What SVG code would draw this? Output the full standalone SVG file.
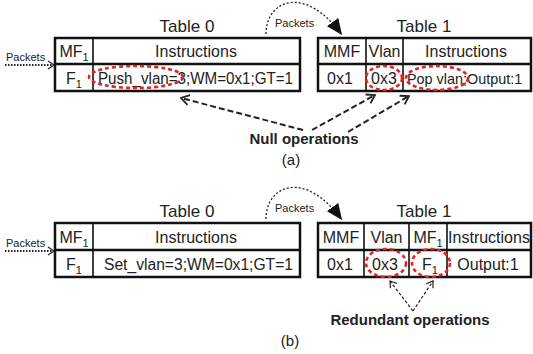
<svg xmlns="http://www.w3.org/2000/svg" width="533" height="354" viewBox="0 0 533 354">
  <style>
    text { font-family: "Liberation Sans", Arial, sans-serif; fill: #222; }
    .t { font-size: 16px; }
    .ttl { font-size: 17px; text-anchor: middle; }
    .c { text-anchor: middle; }
    .sub { font-size: 11px; fill: #222; }
    .pk { font-size: 11px; }
    .lbl { font-size: 15px; font-weight: bold; text-anchor: middle; }
    .cap { font-size: 15px; text-anchor: middle; }
    .box { fill: #fff; stroke: #111; stroke-width: 2.5; }
    .hl { stroke: #111; stroke-width: 2.5; }
    .vl { stroke: #111; stroke-width: 1.6; }
    .mark { fill: none; stroke: #e32424; stroke-width: 2.6; stroke-dasharray: 4 3; }
    .flow { fill: none; stroke: #222; stroke-width: 1.3; stroke-dasharray: 2 2; }
    .in { fill: none; stroke: #222; stroke-width: 2; stroke-dasharray: 1.5 1.5; }
    .ptr { fill: none; stroke: #222; stroke-width: 2; stroke-dasharray: 6 3; }
    .ptrS { fill: none; stroke: #222; stroke-width: 1.2; stroke-dasharray: 3 2; }
  </style>
  <defs>
    <marker id="tri" markerUnits="userSpaceOnUse" viewBox="0 0 16 14" refX="16" refY="7" markerWidth="16" markerHeight="14" orient="auto">
      <path d="M0,0 L16,7 L0,14 z" fill="#111"/>
    </marker>
    <marker id="chev" markerUnits="userSpaceOnUse" viewBox="0 0 10 12" refX="9" refY="6" markerWidth="10" markerHeight="12" orient="auto">
      <path d="M1,1 L9,6 L1,11" fill="none" stroke="#222" stroke-width="1.8"/>
    </marker>
    <marker id="chevS" markerUnits="userSpaceOnUse" viewBox="0 0 8 10" refX="7" refY="5" markerWidth="8" markerHeight="10" orient="auto">
      <path d="M1,1 L7,5 L1,9" fill="none" stroke="#222" stroke-width="1.2"/>
    </marker>
  </defs>

  <!-- ===== (a) ===== -->
  <g id="a-table0">
    <text class="ttl" x="187" y="32">Table 0</text>
    <rect class="box" x="55" y="38" width="245" height="53"/>
    <line class="hl" x1="55" y1="64" x2="300" y2="64"/>
    <line class="vl" x1="93" y1="38" x2="93" y2="91"/>
    <text class="t c" x="74" y="57">MF<tspan class="sub" dy="4">1</tspan></text>
    <text class="t c" x="196" y="57">Instructions</text>
    <text class="t c" x="74" y="84">F<tspan class="sub" dy="4">1</tspan></text>
    <text class="t" x="98" y="84" textLength="195" lengthAdjust="spacingAndGlyphs">Push_vlan=3;WM=0x1;GT=1</text>
    <ellipse class="mark" cx="136" cy="77" rx="47" ry="11"/>
  </g>

  <g id="a-table1">
    <text class="ttl" x="424" y="32">Table 1</text>
    <rect class="box" x="318" y="38" width="213" height="53"/>
    <line class="hl" x1="318" y1="64" x2="531" y2="64"/>
    <line class="vl" x1="366" y1="38" x2="366" y2="91"/>
    <line class="vl" x1="403" y1="38" x2="403" y2="91"/>
    <text class="t c" x="342" y="57">MMF</text>
    <text class="t c" x="384.5" y="57">Vlan</text>
    <text class="t c" x="466" y="57">Instructions</text>
    <text class="t c" x="340" y="84">0x1</text>
    <text class="t c" x="384" y="84">0x3</text>
    <text x="407" y="84" style="font-size:14.4px">Pop vlan;Output:1</text>
    <ellipse class="mark" cx="384" cy="78" rx="18" ry="12"/>
    <ellipse class="mark" cx="437" cy="78" rx="31" ry="12"/>
  </g>

  <g id="a-notes">
    <text class="pk" x="6" y="61">Packets</text>
    <text class="pk" x="275" y="27">Packets</text>
    <text class="lbl" x="304" y="144">Null operations</text>
    <text class="cap" x="291" y="165">(a)</text>
  </g>

  <g id="a-connectors">
    <line class="in" x1="5" y1="65" x2="54" y2="65" marker-end="url(#chevS)"/>
    <path class="flow" d="M266,34 C266,0 305,-16 342,35" marker-end="url(#tri)"/>
    <line class="ptr" x1="303" y1="130" x2="181" y2="98" marker-end="url(#chev)"/>
    <line class="ptr" x1="312" y1="130" x2="375" y2="95" marker-end="url(#chev)"/>
    <line class="ptr" x1="348" y1="132" x2="409" y2="96" marker-end="url(#chev)"/>
  </g>

  <!-- ===== (b) ===== -->
  <g id="b-table0">
    <text class="ttl" x="187" y="217">Table 0</text>
    <rect class="box" x="55" y="223" width="245" height="54"/>
    <line class="hl" x1="55" y1="250" x2="300" y2="250"/>
    <line class="vl" x1="93" y1="223" x2="93" y2="277"/>
    <text class="t c" x="74" y="243">MF<tspan class="sub" dy="4">1</tspan></text>
    <text class="t c" x="196" y="243">Instructions</text>
    <text class="t c" x="74" y="270">F<tspan class="sub" dy="4">1</tspan></text>
    <text class="t" x="104" y="270" textLength="189" lengthAdjust="spacingAndGlyphs">Set_vlan=3;WM=0x1;GT=1</text>
  </g>

  <g id="b-table1">
    <text class="ttl" x="424" y="217">Table 1</text>
    <rect class="box" x="318" y="223" width="213" height="54"/>
    <line class="hl" x1="318" y1="250" x2="531" y2="250"/>
    <line class="vl" x1="364" y1="223" x2="364" y2="277"/>
    <line class="vl" x1="409" y1="223" x2="409" y2="277"/>
    <line class="vl" x1="447" y1="223" x2="447" y2="277"/>
    <text class="t c" x="341" y="243">MMF</text>
    <text class="t c" x="386.5" y="243">Vlan</text>
    <text class="t c" x="428" y="243">MF<tspan class="sub" dy="4">1</tspan></text>
    <text class="t c" x="489" y="243">Instructions</text>
    <text class="t c" x="340" y="270">0x1</text>
    <text class="t c" x="385" y="270">0x3</text>
    <text class="t c" x="430" y="270">F<tspan class="sub" dy="4">1</tspan></text>
    <text class="t c" x="488" y="270">Output:1</text>
    <ellipse class="mark" cx="386" cy="263" rx="20" ry="14"/>
    <ellipse class="mark" cx="431" cy="263" rx="19" ry="14"/>
  </g>

  <g id="b-notes">
    <text class="pk" x="6" y="247">Packets</text>
    <text class="pk" x="275" y="212">Packets</text>
    <text class="lbl" x="410" y="325">Redundant operations</text>
    <text class="cap" x="290" y="346">(b)</text>
  </g>

  <g id="b-connectors">
    <line class="in" x1="5" y1="251" x2="54" y2="251" marker-end="url(#chevS)"/>
    <path class="flow" d="M266,219 C266,185 305,169 342,220" marker-end="url(#tri)"/>
    <line class="ptrS" x1="413" y1="311" x2="390" y2="281" marker-end="url(#chevS)"/>
    <line class="ptrS" x1="413" y1="311" x2="433" y2="281" marker-end="url(#chevS)"/>
  </g>
</svg>
